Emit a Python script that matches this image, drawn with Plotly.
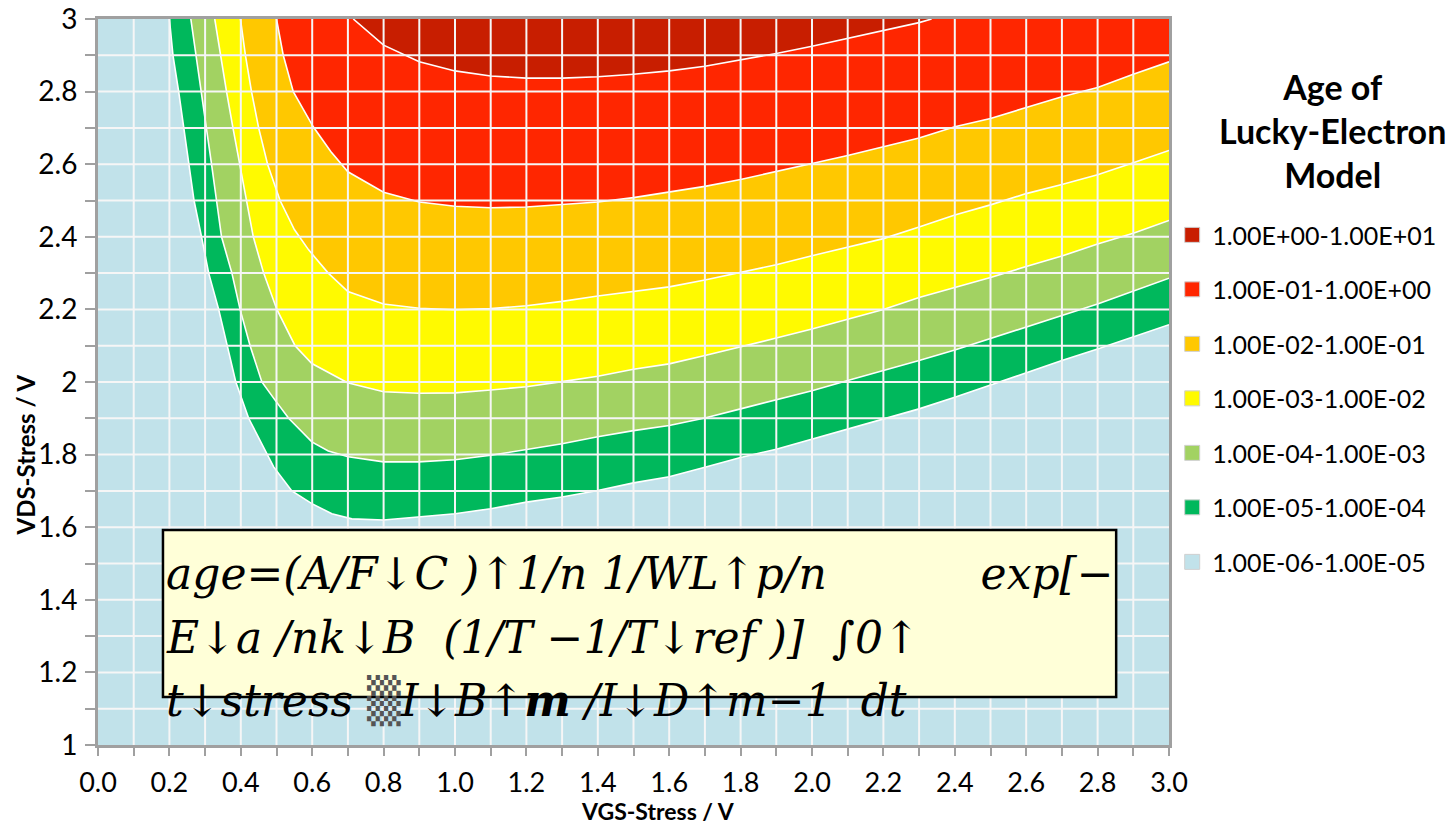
import plotly.graph_objects as go

# ---------------- data ----------------
# Contour boundaries of log-spaced "age" levels, VDS (y) as a function of VGS (x)
B1_X = [0.20, 0.21, 0.226, 0.241, 0.255, 0.269, 0.29, 0.31, 0.338, 0.363, 0.386, 0.422, 0.473, 0.492,
        0.543, 0.599, 0.655, 0.711, 0.80, 0.897, 1.0, 1.1, 1.2, 1.3, 1.4, 1.5, 1.6, 1.7, 1.8, 1.9,
        2.0, 2.1, 2.2, 2.3, 2.4, 2.5, 2.6, 2.7, 2.8, 2.9, 3.0]
B1_Y = [3.0, 2.9, 2.8, 2.7, 2.6, 2.5, 2.4, 2.3, 2.2, 2.1, 2.0, 1.9, 1.8, 1.766,
        1.7, 1.665, 1.637, 1.623, 1.62, 1.628, 1.637, 1.651, 1.669, 1.683, 1.701, 1.722, 1.739, 1.765, 1.792, 1.815,
        1.843, 1.87, 1.898, 1.926, 1.958, 1.992, 2.027, 2.059, 2.091, 2.125, 2.158]

B2_X = [0.26, 0.275, 0.289, 0.303, 0.318, 0.332, 0.346, 0.375, 0.398, 0.426, 0.459, 0.496, 0.534, 0.599,
        0.645, 0.701, 0.80, 0.897, 1.0, 1.1, 1.2, 1.3, 1.4, 1.5, 1.6, 1.7, 1.8, 1.9, 2.0, 2.1, 2.2,
        2.3, 2.4, 2.5, 2.6, 2.7, 2.8, 2.9, 3.0]
B2_Y = [3.0, 2.9, 2.8, 2.7, 2.6, 2.5, 2.4, 2.3, 2.2, 2.1, 2.0, 1.95, 1.9, 1.835,
        1.81, 1.794, 1.78, 1.78, 1.786, 1.798, 1.814, 1.83, 1.849, 1.866, 1.88, 1.901, 1.926, 1.95, 1.976, 2.004, 2.031,
        2.059, 2.088, 2.119, 2.151, 2.183, 2.215, 2.25, 2.286]

B3_X = [0.327, 0.343, 0.36, 0.378, 0.397, 0.416, 0.435, 0.464, 0.501, 0.552, 0.599, 0.699, 0.80, 0.899,
        1.0, 1.1, 1.2, 1.3, 1.4, 1.5, 1.6, 1.7, 1.8, 1.9, 2.0, 2.1, 2.2, 2.3, 2.4, 2.5, 2.6, 2.7,
        2.8, 2.9, 3.0]
B3_Y = [3.0, 2.9, 2.8, 2.7, 2.6, 2.5, 2.4, 2.3, 2.2, 2.1, 2.051, 1.998, 1.973, 1.969,
        1.97, 1.978, 1.987, 2.001, 2.016, 2.035, 2.05, 2.073, 2.096, 2.121, 2.146, 2.172, 2.2, 2.233, 2.26, 2.288, 2.318, 2.347,
        2.38, 2.41, 2.445]

B4_X = [0.399, 0.413, 0.43, 0.45, 0.475, 0.51, 0.55, 0.59, 0.645, 0.70, 0.80, 0.9, 1.0, 1.1, 1.2, 1.3,
        1.4, 1.5, 1.6, 1.7, 1.8, 1.9, 2.0, 2.1, 2.2, 2.3, 2.4, 2.5, 2.6, 2.7, 2.8, 2.9, 3.0]
B4_Y = [3.0, 2.9, 2.8, 2.7, 2.6, 2.5, 2.42, 2.364, 2.3, 2.249, 2.215, 2.203, 2.199, 2.202, 2.21, 2.222,
        2.237, 2.25, 2.262, 2.281, 2.301, 2.323, 2.348, 2.372, 2.395, 2.427, 2.46, 2.488, 2.519, 2.544, 2.571, 2.604, 2.638]

B5_X = [0.5, 0.519, 0.547, 0.603, 0.652, 0.70, 0.8, 0.9, 1.0, 1.1, 1.2, 1.3, 1.4, 1.5, 1.6, 1.7, 1.8,
        1.9, 2.0, 2.1, 2.2, 2.3, 2.4, 2.5, 2.6, 2.7, 2.8, 2.9, 3.0]
B5_Y = [3.0, 2.9, 2.8, 2.703, 2.635, 2.579, 2.523, 2.496, 2.484, 2.48, 2.482, 2.488, 2.496, 2.508, 2.523, 2.539, 2.558,
        2.579, 2.602, 2.624, 2.648, 2.672, 2.703, 2.726, 2.756, 2.786, 2.811, 2.848, 2.882]

B6_X = [0.715, 0.8, 0.9, 1.0, 1.1, 1.2, 1.3, 1.4, 1.5, 1.6, 1.7, 1.8, 1.9, 2.0, 2.1, 2.2, 2.3, 2.335]
B6_Y = [3.0, 2.928, 2.882, 2.857, 2.843, 2.837, 2.837, 2.841, 2.848, 2.857, 2.87, 2.887, 2.905, 2.925,
        2.947, 2.968, 2.99, 3.0]

LEVEL_LABELS = ["1.00E+00-1.00E+01", "1.00E-01-1.00E+00", "1.00E-02-1.00E-01", "1.00E-03-1.00E-02",
                "1.00E-04-1.00E-03", "1.00E-05-1.00E-04", "1.00E-06-1.00E-05"]
LEVEL_COLORS = ["#C81E00", "#FF2600", "#FFC800", "#FFFA00", "#A2D262", "#00B85C", "#C1E2EA"]
LEGEND_TITLE = "Age of<br>Lucky-Electron<br>Model"
X_TITLE = "VGS-Stress / V"
Y_TITLE = "VDS-Stress / V"

X_TICKS = [round(0.2 * i, 1) for i in range(16)]
Y_TICKS = [round(1 + 0.2 * i, 1) for i in range(11)]
GRID_X = [round(0.1 * i, 1) for i in range(1, 30)]
GRID_Y = [round(1 + 0.1 * i, 1) for i in range(1, 20)]

NB = "\u00a0"
FORMULA_LINES = [
    "age=(A/F↓C )↑1/n 1/WL↑p/n " + NB * 10 + "exp[−",
    "E↓a /nk↓B " + NB + "(1/T −1/T↓ref )] " + NB + "∫0↑",
    "t↓stress <span style='color:#555'>▒</span>I↓B↑<b>m</b> /I↓D↑m−1 " + NB + "dt",
]

# ---------------- figure ----------------
fig = go.Figure()

X_MAX, Y_MAX = 3.0, 3.0
boundaries = [(B1_X, B1_Y), (B2_X, B2_Y), (B3_X, B3_Y), (B4_X, B4_Y), (B5_X, B5_Y), (B6_X, B6_Y)]
# fill colours of the region above each boundary (from outer to inner)
fill_colors = LEVEL_COLORS[-2::-1]

for (bx, by), col in zip(boundaries, fill_colors):
    px = list(bx)
    py = list(by)
    if px[-1] >= X_MAX and py[-1] < Y_MAX:
        px = px + [X_MAX]
        py = py + [Y_MAX]
    fig.add_trace(go.Scatter(x=px, y=py, mode="lines", fill="toself", fillcolor=col,
                             line=dict(width=0, color=col), hoverinfo="skip", showlegend=False))

for bx, by in boundaries:
    fig.add_trace(go.Scatter(x=bx, y=by, mode="lines", line=dict(color="white", width=1.6),
                             hoverinfo="skip", showlegend=False))

for i, (lab, col) in enumerate(zip(LEVEL_LABELS, LEVEL_COLORS)):
    fig.add_trace(go.Scatter(x=[None], y=[None], mode="markers", name=lab, legendgroup=f"g{i}",
                             marker=dict(symbol="square", size=15, color=col,
                                         line=dict(color="#D0D0D0", width=1))))

shapes = []
for gx in GRID_X:
    shapes.append(dict(type="line", xref="x", yref="paper", x0=gx, x1=gx, y0=0, y1=1,
                       line=dict(color="#F6F6F6", width=2), layer="above"))
for gy in GRID_Y:
    shapes.append(dict(type="line", xref="paper", yref="y", x0=0, x1=1, y0=gy, y1=gy,
                       line=dict(color="#F6F6F6", width=2), layer="above"))
# formula box
shapes.append(dict(type="rect", xref="x", yref="y", x0=0.182, x1=2.852, y0=1.132, y1=1.592,
                   fillcolor="#FFFFD8", line=dict(color="black", width=2.5), layer="above"))

annotations = []
for txt, yy in zip(FORMULA_LINES, [1.472, 1.297, 1.122]):
    annotations.append(dict(x=0.186, y=yy, xref="x", yref="y", xanchor="left", yanchor="middle",
                            text=f"<i>{txt}</i>", showarrow=False,
                            font=dict(family="DejaVu Serif", size=44, color="black")))
# legend title (centred lines)
annotations.append(dict(x=1.153, y=0.846, xref="paper", yref="paper", xanchor="center", yanchor="middle",
                        text=f"<b>{LEGEND_TITLE}</b>", showarrow=False, align="center",
                        font=dict(family="Lato", size=34, color="black")))
# axis titles (placed as in the reference, not centred on the axes)
annotations.append(dict(x=0.523, y=-0.091, xref="paper", yref="paper", xanchor="center", yanchor="middle",
                        text=f"<b>{X_TITLE}</b>", showarrow=False,
                        font=dict(family="Lato", size=23, color="black")))
annotations.append(dict(x=-0.068, y=0.399, xref="paper", yref="paper", xanchor="center", yanchor="middle",
                        text=f"<b>{Y_TITLE}</b>", showarrow=False, textangle=-90,
                        font=dict(family="Lato", size=24, color="black")))

axis_col = "#A0A0A0"

# page body has an 8px margin, so the figure is shrunk by 8px and margins shifted accordingly
fig.update_layout(
    width=1448, height=818,
    margin=dict(l=90, r=287, t=11, b=81, autoexpand=False),
    paper_bgcolor="white",
    plot_bgcolor=LEVEL_COLORS[-1],
    shapes=shapes,
    annotations=annotations,
    showlegend=True,
    legend=dict(x=1.003, y=0.734, xanchor="left", yanchor="top",
                font=dict(family="Lato", size=25, color="black"),
                tracegroupgap=19, itemsizing="trace", bgcolor="rgba(0,0,0,0)"),
    xaxis=dict(range=[0, 3], tickvals=X_TICKS, tickformat=".1f", ticks="outside", ticklen=8,
               tickwidth=2, tickcolor=axis_col, showgrid=False, zeroline=False,
               showline=True, linecolor=axis_col, linewidth=3, mirror=True,
               minor=dict(dtick=0.1, tick0=0, ticks="outside", ticklen=8, tickwidth=2,
                          tickcolor=axis_col, showgrid=False),
               tickfont=dict(family="Lato", size=27, color="black"),
               ticklabelstandoff=4, ticklabeloverflow="allow"),
    yaxis=dict(range=[1, 3], tickvals=Y_TICKS, ticks="outside", ticklen=10,
               tickwidth=2, tickcolor=axis_col, showgrid=False, zeroline=False,
               showline=True, linecolor=axis_col, linewidth=3, mirror=True,
               minor=dict(dtick=0.1, tick0=1, ticks="outside", ticklen=10, tickwidth=2,
                          tickcolor=axis_col, showgrid=False),
               tickfont=dict(family="Lato", size=28, color="black"),
               ticklabelstandoff=2, ticklabeloverflow="allow"),
)

fig.write_html("out.html")
